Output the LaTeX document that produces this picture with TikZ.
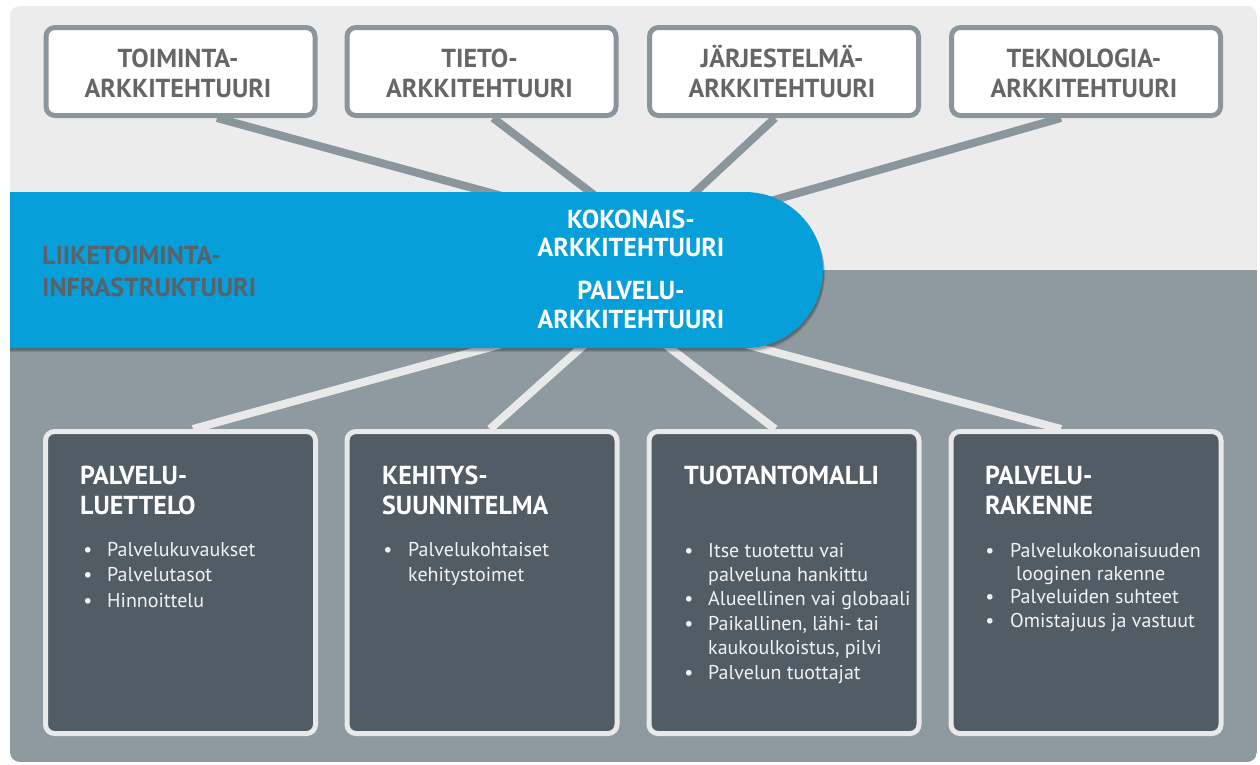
\documentclass[tikz,border=0pt]{standalone}
\usepackage{fontspec}
\setmainfont{PT Sans}
\usetikzlibrary{calc}

\definecolor{panelTop}{HTML}{ECECEC}
\definecolor{panelBot}{HTML}{8E99A0}
\definecolor{bandBlue}{HTML}{079FD9}
\definecolor{slate}{HTML}{525C64}
\definecolor{rim}{HTML}{8A969C}
\definecolor{pale}{HTML}{E9E9E9}
\definecolor{capGray}{HTML}{666666}
\definecolor{infraGray}{HTML}{5B6166}

\pgfdeclarelayer{bg}
\pgfdeclarelayer{wires}
\pgfsetlayers{bg,wires,main}

\tikzset{
  topbox/.style={draw=rim, line width=5pt, fill=white, rounded corners=9pt,
    minimum width=269pt, minimum height=88pt, inner sep=0pt},
  botbox/.style={draw=pale, line width=5pt, fill=slate, rounded corners=9pt,
    minimum width=270pt, minimum height=302pt, inner sep=0pt},
  topwire/.style={draw=rim, line width=8pt},
  botwire/.style={draw=pale, line width=8pt},
  capline/.style={anchor=base, inner sep=0pt, font=\bfseries\fontsize{26}{30}\selectfont},
  topcap/.style={capline, text=capGray},
  bandcap/.style={capline, text=white},
  infracap/.style={capline, anchor=base west, text=infraGray},
  headline/.style={anchor=base west, inner sep=0pt, text=white,
    font=\bfseries\fontsize{26}{30}\selectfont},
  itemline/.style={anchor=base west, inner sep=0pt, text=white!95!black,
    font=\fontsize{20}{24}\selectfont},
  itemdot/.style={anchor=base, inner sep=0pt, text=white!95!black,
    font=\fontsize{20}{24}\selectfont},
}

\begin{document}
\begin{tikzpicture}[x=1pt,y=-1pt]
\useasboundingbox (0,0) rectangle (1260,764);

% background panel: light upper part, grey lower part
\begin{pgfonlayer}{bg}
  \fill[white] (0,0) rectangle (1260,764);
  \begin{scope}
    \clip[rounded corners=10pt] (10,6) rectangle (1257,762);
    \fill[panelTop] (10,6) rectangle (1257,270);
    \fill[panelBot] (10,270) rectangle (1257,762);
  \end{scope}
\end{pgfonlayer}

% hubs behind the blue band
\coordinate (hubT) at (648,236);
\coordinate (hubB) at (622,311);

% upper row of architecture boxes
\node[topbox] (t1) at (180.5,71.5) {};
\node[topbox] (t2) at (481.5,71.5) {};
\node[topbox] (t3) at (784,71.5) {};
\node[topbox] (t4) at (1086,71.5) {};

\node[topcap] (t1a) at (178,67) {TOIMINTA-};
\node[topcap] (t1b) at (178,97) {ARKKITEHTUURI};
\node[topcap] (t2a) at (479.5,67) {TIETO-};
\node[topcap] (t2b) at (479.5,97) {ARKKITEHTUURI};
\node[topcap] (t3a) at (782,67) {JÄRJESTELMÄ-};
\node[topcap] (t3b) at (782,97) {ARKKITEHTUURI};
\node[topcap] (t4a) at (1084,67) {TEKNOLOGIA-};
\node[topcap] (t4b) at (1084,97) {ARKKITEHTUURI};

% lower row of service boxes
\node[botbox] (b1) at (180.5,582.5) {};
\node[botbox] (b2) at (482,582.5) {};
\node[botbox] (b3) at (784,582.5) {};
\node[botbox] (b4) at (1086,582.5) {};

% connectors
\begin{pgfonlayer}{wires}
  \draw[topwire] (hubT) -- ($(t1.south)+(36.5,0)$);
  \draw[topwire] (hubT) -- ($(t2.south)+(11.5,0)$);
  \draw[topwire] (hubT) -- ($(t3.south)+(-9,0)$);
  \draw[topwire] (hubT) -- ($(t4.south)+(-25,0)$);
  \draw[botwire] (hubB) -- ($(b1.north)+(12.5,0)$);
  \draw[botwire] (hubB) -- ($(b2.north)+(8,0)$);
  \draw[botwire] (hubB) -- ($(b3.north)+(-9,0)$);
  \draw[botwire] (hubB) -- ($(b4.north)+(-25,0)$);
\end{pgfonlayer}

% blue band with a soft shadow
\foreach \d/\o in {4/0.10,3/0.12,2/0.14} {
  \fill[black, opacity=\o] (10,192+\d) -- (745+\d*0.5,192+\d)
    arc[start angle=90, end angle=-90, radius=78pt] -- (10,348+\d) -- cycle;
}
\fill[bandBlue] (10,192) -- (745,192)
  arc[start angle=90, end angle=-90, radius=78pt] -- (10,348) -- cycle;

\node[infracap] (inf1) at (42,264) {LIIKETOIMINTA-};
\node[infracap] (inf2) at (42,296) {INFRASTRUKTUURI};
\node[bandcap] (k1) at (631,228) {KOKONAIS-};
\node[bandcap] (k2) at (631,256) {ARKKITEHTUURI};
\node[bandcap] (p1) at (631,299) {PALVELU-};
\node[bandcap] (p2) at (631,328) {ARKKITEHTUURI};

% box 1
\node[headline] (h1a) at (80,484) {PALVELU-};
\node[headline] (h1b) at (80,514) {LUETTELO};
\node[itemdot] (d1a) at (88,556) {•};
\node[itemline] (i1a) at (107,556) {Palvelukuvaukset};
\node[itemdot] (d1b) at (88,581.5) {•};
\node[itemline] (i1b) at (107,581.5) {Palvelutasot};
\node[itemdot] (d1c) at (88,607) {•};
\node[itemline] (i1c) at (107,607) {Hinnoittelu};

% box 2
\node[headline] (h2a) at (382,484) {KEHITYS-};
\node[headline] (h2b) at (382,514) {SUUNNITELMA};
\node[itemdot] (d2a) at (388,556) {•};
\node[itemline] (i2a) at (408,556) {Palvelukohtaiset};
\node[itemline] (i2b) at (408,581) {kehitystoimet};

% box 3
\node[headline] (h3a) at (684,484) {TUOTANTOMALLI};
\node[itemdot] (d3a) at (689,557) {•};
\node[itemline] (i3a) at (708,557) {Itse tuotettu vai};
\node[itemline] (i3b) at (708,581) {palveluna hankittu};
\node[itemdot] (d3b) at (689,605.5) {•};
\node[itemline] (i3c) at (708,605.5) {Alueellinen vai globaali};
\node[itemdot] (d3c) at (689,630) {•};
\node[itemline] (i3d) at (708,630) {Paikallinen, lähi- tai};
\node[itemline] (i3e) at (708,654) {kaukoulkoistus, pilvi};
\node[itemdot] (d3d) at (689,679) {•};
\node[itemline] (i3f) at (708,679) {Palvelun tuottajat};

% box 4
\node[headline] (h4a) at (985,484) {PALVELU-};
\node[headline] (h4b) at (985,514) {RAKENNE};
\node[itemdot] (d4a) at (990,557) {•};
\node[itemline] (i4a) at (1010,557) {Palvelukokonaisuuden};
\node[itemline] (i4b) at (1016,580) {looginen rakenne};
\node[itemdot] (d4b) at (990,603.5) {•};
\node[itemline] (i4c) at (1010,603.5) {Palveluiden suhteet};
\node[itemdot] (d4c) at (990,627) {•};
\node[itemline] (i4d) at (1010,627) {Omistajuus ja vastuut};
\end{tikzpicture}
\end{document}
